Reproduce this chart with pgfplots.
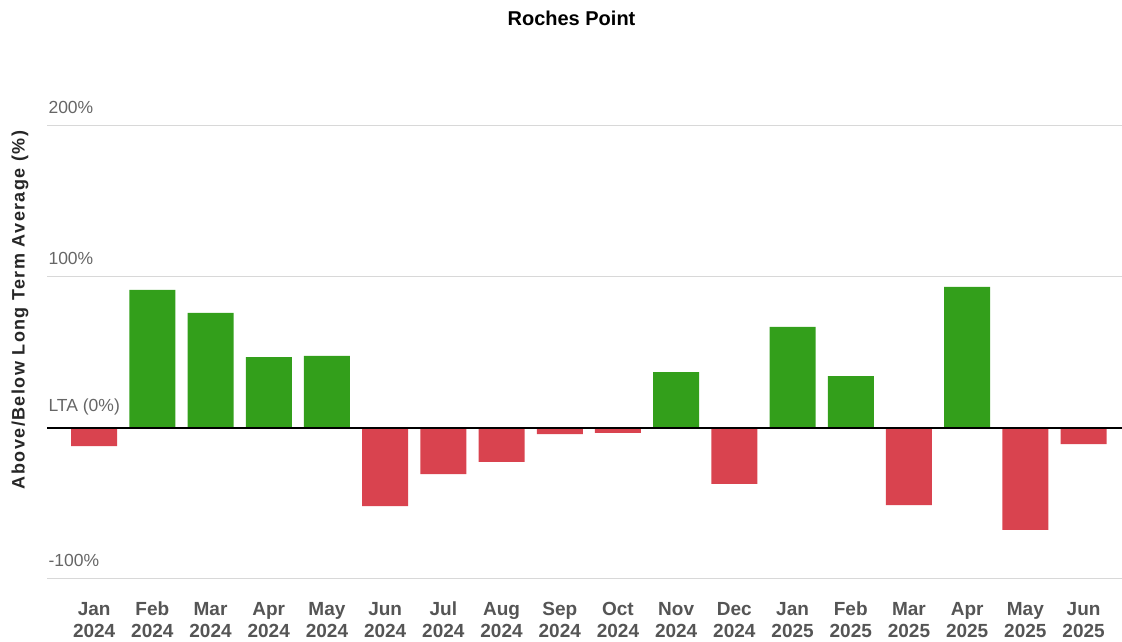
\documentclass[border=0pt]{standalone}
\usepackage{pgfplots}
\pgfplotsset{compat=1.18}
\usepackage{fontspec}
\setmainfont{Liberation Sans}
\newfontfamily\spacedfont[LetterSpace=8]{Liberation Sans}
\definecolor{barGreen}{HTML}{339F1B}
\definecolor{barRed}{HTML}{D9434F}
\definecolor{labelGrey}{HTML}{666666}
\definecolor{catGrey}{HTML}{555555}
\definecolor{gridGrey}{HTML}{D8D8D8}
\newcommand\ml[2]{\strut#1\\\strut#2}

\begin{document}
\begin{tikzpicture}
\useasboundingbox (0,0) rectangle (1122pt,642pt);
\begin{axis}[
    at={(47pt,63pt)}, anchor=south west,
    scale only axis,
    width=1075pt, height=453pt,
    xmin=-0.81, xmax=17.66,
    ymin=-100, ymax=200,
    axis line style={draw=none},
    tick style={draw=none},
    ymajorgrids, grid style={gridGrey, line width=1pt},
    ytick={-100,0,100,200},
    yticklabels={-100\%, LTA (0\%), 100\%, 200\%},
    yticklabel style={anchor=south west, xshift=-2pt, yshift=9pt,
        text=labelGrey, font=\fontsize{17.5}{20}\selectfont},
    xtick={0,...,17},
    xticklabels={\ml{Jan}{2024},\ml{Feb}{2024},\ml{Mar}{2024},\ml{Apr}{2024},
        \ml{May}{2024},\ml{Jun}{2024},\ml{Jul}{2024},\ml{Aug}{2024},
        \ml{Sep}{2024},\ml{Oct}{2024},\ml{Nov}{2024},\ml{Dec}{2024},
        \ml{Jan}{2025},\ml{Feb}{2025},\ml{Mar}{2025},\ml{Apr}{2025},
        \ml{May}{2025},\ml{Jun}{2025}},
    xticklabel style={align=center, text=catGrey, yshift=-17pt, inner sep=0pt,
        font=\bfseries\fontsize{19}{22}\selectfont},
    ybar, bar width=46pt, bar shift=0pt,
]
% above the long term average
\addplot[fill=barGreen, draw=none] coordinates {
    (1,91.4) (2,76.2) (3,47.0) (4,47.7) (10,37.0) (12,66.9) (13,34.4) (15,93.4)
};
% below the long term average
\addplot[fill=barRed, draw=none] coordinates {
    (0,-12.0) (5,-51.7) (6,-30.5) (7,-22.5) (8,-4.0) (9,-3.3) (11,-37.0)
    (14,-51.0) (16,-67.5) (17,-10.6)
};
\draw[black, line width=2pt] (axis cs:-0.81,0) -- (axis cs:17.66,0);
\end{axis}
\node[font=\bfseries\fontsize{20}{24}\selectfont] at (571.5pt,624pt) {Roches Point};
\node[rotate=90, font=\spacedfont\bfseries\fontsize{18}{21}\selectfont, text=black!85]
    at (20pt,332pt) {Above/Below Long Term Average (\%)};
\end{tikzpicture}
\end{document}
